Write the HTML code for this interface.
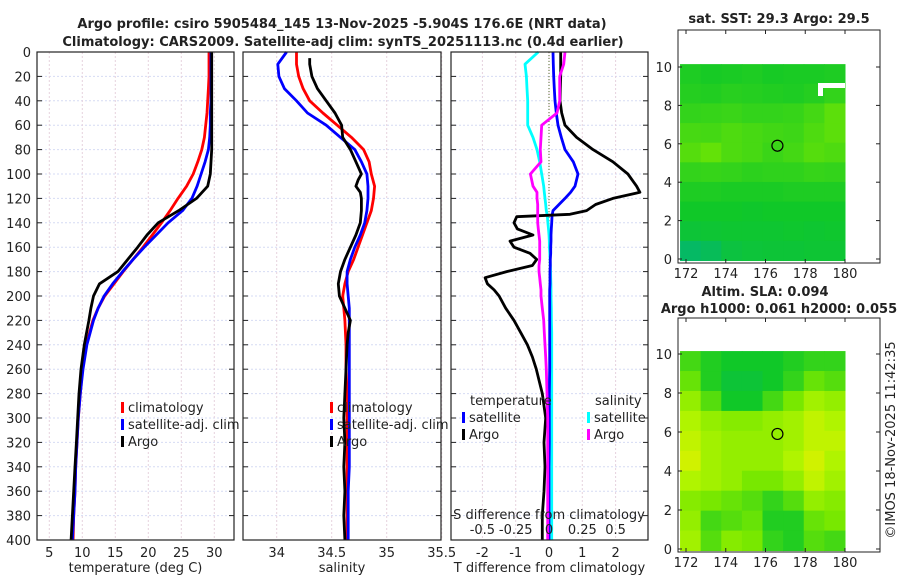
<!DOCTYPE html>
<html><head><meta charset="utf-8">
<style>
html,body{margin:0;padding:0;background:#fff;}
svg{display:block;font-family:"DejaVu Sans","Liberation Sans",sans-serif;}
text{fill:#222;}
</style></head>
<body>
<svg id="fig" width="900" height="580" viewBox="0 0 900 580">
<text x="342" y="28" text-anchor="middle" font-size="13" font-weight="bold">Argo profile: csiro 5905484_145 13-Nov-2025 -5.904S 176.6E (NRT data)</text>
<text x="343" y="46" text-anchor="middle" font-size="13" font-weight="bold">Climatology: CARS2009. Satellite-adj clim: synTS_20251113.nc (0.4d earlier)</text>
<text x="779" y="23" text-anchor="middle" font-size="13" font-weight="bold">sat. SST: 29.3 Argo: 29.5</text>
<text x="765" y="296" text-anchor="middle" font-size="13" font-weight="bold">Altim. SLA: 0.094</text>
<text x="779" y="313" text-anchor="middle" font-size="13" font-weight="bold">Argo h1000: 0.061 h2000: 0.055</text>
<text transform="translate(895,440) rotate(-90)" text-anchor="middle" font-size="13">©IMOS 18-Nov-2025 11:42:35</text>
<g id="root"></g>
</svg>
<script>
// ---- data ----
const depths = [0,10,20,30,40,50,60,70,80,90,100,110,120,130,140,150,160,170,180,190,200,210,220,240,260,280,300,320,340,360,380,400];
const tempClim = [29.2,29.2,29.2,29.1,29.0,28.9,28.7,28.5,28.1,27.5,26.8,25.8,24.5,23.3,22.0,20.6,19.2,17.7,16.2,14.8,13.4,12.4,11.6,10.6,10.0,9.7,9.4,9.2,9.0,8.9,8.7,8.6];
const tempSat = [29.5,29.5,29.5,29.5,29.5,29.4,29.4,29.3,29.1,28.6,28.0,27.4,26.6,25.2,23.0,21.2,19.4,17.7,16.1,14.6,13.3,12.4,11.7,10.7,10.1,9.7,9.4,9.2,9.0,8.9,8.7,8.5];
const tempArgo = [29.6,29.6,29.6,29.6,29.6,29.6,29.6,29.6,29.6,29.5,29.4,29.0,27.3,24.6,21.5,19.8,18.4,16.9,15.4,12.6,11.7,11.3,11.0,10.3,9.8,9.5,9.3,9.1,8.9,8.7,8.5,8.3];
const salClim = [34.18,34.18,34.2,34.24,34.3,34.42,34.55,34.68,34.79,34.84,34.86,34.89,34.88,34.86,34.82,34.78,34.74,34.7,34.65,34.62,34.6,34.61,34.62,34.63,34.63,34.64,34.64,34.64,34.64,34.64,34.64,34.64];
const salSat = [34.09,34.01,34.02,34.07,34.18,34.28,34.45,34.58,34.71,34.77,34.82,34.83,34.83,34.82,34.8,34.76,34.71,34.67,34.64,34.64,34.65,34.66,34.66,34.66,34.66,34.66,34.66,34.66,34.66,34.65,34.65,34.65];
const argoSalDepths = [5,10,20,30,40,50,60,70,80,90,100,105,110,115,120,130,140,150,160,170,180,185,190,200,210,220,230,240,260,280,300,320,340,360,380,400];
const salArgo = [34.3,34.3,34.32,34.37,34.45,34.53,34.59,34.6,34.67,34.72,34.77,34.74,34.72,34.76,34.77,34.77,34.76,34.72,34.67,34.62,34.58,34.57,34.56,34.57,34.62,34.67,34.65,34.64,34.63,34.62,34.61,34.62,34.61,34.62,34.61,34.62];
const diffDepths = [0,10,20,30,40,50,60,70,80,90,100,110,115,120,125,130,133,135,140,145,150,155,160,165,170,175,180,185,190,195,200,210,220,230,240,250,260,280,300,320,340,360,380,400];
const tDiffSat = [0.12,0.13,0.14,0.16,0.18,0.22,0.27,0.37,0.48,0.73,0.87,0.78,0.65,0.48,0.3,0.12,0.1,0.09,0.08,0.07,0.06,0.06,0.05,0.05,0.04,0.04,0.03,0.03,0.03,0.02,0.02,0.02,0.02,0.02,0.02,0.02,0.02,0.01,0.01,0.01,0.0,0.0,0.0,0.0];
const tDiffArgo = [0.35,0.35,0.35,0.34,0.33,0.38,0.48,0.83,1.32,1.92,2.37,2.63,2.73,1.92,1.4,1.13,0.63,-0.97,-1.05,-0.95,-0.48,-1.17,-1.05,-0.57,-0.37,-0.5,-1.27,-1.92,-1.85,-1.65,-1.5,-1.3,-1.05,-0.85,-0.65,-0.5,-0.38,-0.2,-0.1,-0.15,-0.12,-0.15,-0.2,-0.2];
const sDiffSat = [-0.08,-0.18,-0.17,-0.165,-0.16,-0.16,-0.16,-0.12,-0.09,-0.07,-0.055,-0.04,-0.035,-0.03,-0.025,-0.02,-0.015,-0.012,-0.008,-0.004,0.0,0.002,0.003,0.006,0.008,0.01,0.012,0.013,0.014,0.015,0.015,0.017,0.018,0.02,0.02,0.02,0.02,0.02,0.02,0.02,0.02,0.02,0.02,0.02];
const sDiffArgo = [0.12,0.11,0.08,0.08,0.08,0.06,-0.055,-0.06,-0.065,-0.06,-0.14,-0.12,-0.09,-0.09,-0.085,-0.085,-0.085,-0.085,-0.085,-0.08,-0.075,-0.07,-0.07,-0.07,-0.07,-0.075,-0.075,-0.07,-0.065,-0.06,-0.06,-0.05,-0.04,-0.035,-0.03,-0.025,-0.02,-0.015,-0.01,-0.01,-0.01,-0.01,-0.01,-0.01];
const depthTicks = [0,20,40,60,80,100,120,140,160,180,200,220,240,260,280,300,320,340,360,380,400];
const tempTicks = [5,10,15,20,25,30];
const salTicks = [34,34.5,35,35.5];
const salTickLabels = ["34","34.5","35","35.5"];
const tdTicks = [-2,-1,0,1,2];
const sdTicks = [-0.5,-0.25,0,0.25,0.5];
const sdTickLabels = ["-0.5","-0.25","0","0.25","0.5"];
const lonTicks = [172,174,176,178,180];
const latTicks = [0,2,4,6,8,10];
const argoLon = 176.6, argoLat = 5.9;
// map grids (rows from lat 10 down to 0; 8 columns 171.7..180), value 0=teal .. 1=yellow
const sstGrid = [
 [0.34,0.32,0.33,0.34,0.32,0.33,0.33,0.34],
 [0.36,0.35,0.37,0.36,0.35,0.34,0.36,0.4],
 [0.4,0.41,0.42,0.4,0.4,0.41,0.45,0.52],
 [0.46,0.45,0.48,0.46,0.44,0.43,0.48,0.52],
 [0.5,0.54,0.48,0.46,0.42,0.45,0.5,0.48],
 [0.4,0.41,0.4,0.38,0.39,0.39,0.41,0.4],
 [0.34,0.34,0.33,0.33,0.33,0.34,0.34,0.34],
 [0.3,0.3,0.3,0.29,0.3,0.3,0.3,0.3],
 [0.25,0.26,0.27,0.27,0.27,0.28,0.27,0.28],
 [0.1,0.14,0.22,0.24,0.25,0.25,0.26,0.26]];
const slaGrid = [
 [0.45,0.35,0.3,0.3,0.3,0.35,0.4,0.4],
 [0.55,0.35,0.25,0.25,0.3,0.4,0.55,0.5],
 [0.7,0.5,0.3,0.3,0.45,0.6,0.75,0.7],
 [0.8,0.7,0.65,0.65,0.7,0.75,0.85,0.8],
 [0.85,0.75,0.7,0.7,0.7,0.75,0.85,0.85],
 [0.9,0.75,0.7,0.7,0.7,0.8,0.9,0.8],
 [0.8,0.75,0.7,0.6,0.6,0.7,0.85,0.75],
 [0.65,0.6,0.55,0.5,0.4,0.5,0.7,0.65],
 [0.7,0.45,0.5,0.55,0.35,0.35,0.55,0.6],
 [0.75,0.5,0.65,0.6,0.4,0.35,0.5,0.45]];

// ---- helpers ----
const NS = "http://www.w3.org/2000/svg";
const root = document.getElementById('root');
function mk(tag, attrs, parent){
  const e = document.createElementNS(NS, tag);
  for (const k in attrs) e.setAttribute(k, attrs[k]);
  (parent||root).appendChild(e);
  return e;
}
const Y0 = 52, Y1 = 540;
const yD = d => Y0 + d*(Y1-Y0)/400;
function lin(d0,d1,r0,r1){ return v => r0 + (v-d0)*(r1-r0)/(d1-d0); }

const panels = [
  {name:'temperature-panel', x0:37, x1:234, sx: lin(5,30,49.3,214.3), ticks: tempTicks, labels: tempTicks.map(String), xlabel:'temperature (deg C)'},
  {name:'salinity-panel', x0:243, x1:441, sx: lin(34,35,276.7,386.7), ticks: salTicks, labels: salTickLabels, xlabel:'salinity'},
  {name:'difference-panel', x0:451, x1:648, sx: lin(0,1,549,582.3), ticks: tdTicks, labels: tdTicks.map(String), xlabel:'T difference from climatology'}
];
const sxS = lin(0,0.25,549,582.3);

panels.forEach((p,pi)=>{
  const g = mk('g',{});
  
  
  depthTicks.forEach(d=>{
    const l = mk('line',{x1:p.x0,x2:p.x1,y1:yD(d),y2:yD(d),stroke:'#d6dbf4','stroke-width':1,'stroke-dasharray':'2,2'},g);
    
    
  });
  p.ticks.forEach(v=>{
    const x = p.sx(v);
    const l = mk('line',{x1:x,x2:x,y1:Y0,y2:Y1,stroke:'#e6d2de','stroke-width':1,'stroke-dasharray':'2,2'},g);
    
    
  });
  depthTicks.forEach(d=>{
    mk('line',{x1:p.x0,x2:p.x0+5,y1:yD(d),y2:yD(d),stroke:'#222'},g);
    mk('line',{x1:p.x1-5,x2:p.x1,y1:yD(d),y2:yD(d),stroke:'#222'},g);
  });
  p.ticks.forEach((v,i)=>{
    const t = mk('text',{x:p.sx(v),y:557,'text-anchor':'middle','font-size':13},g);
    t.textContent = p.labels[i];
    
    
  });
  const xl = mk('text',{x:(p.x0+p.x1)/2,y:572,'text-anchor':'middle','font-size':13},g);
  xl.textContent = p.xlabel;
  
  
});
depthTicks.forEach(d=>{
  const t = mk('text',{x:31,y:yD(d)+5,'text-anchor':'end','font-size':13});
  t.textContent = String(d);
  
  
});
const zl = mk('line',{x1:549,x2:549,y1:Y0,y2:Y1,stroke:'#556b2f','stroke-width':1,'stroke-dasharray':'1,2'});



function series(xs, ds, sx, color, name){
  const pts = xs.map((v,i)=>sx(v).toFixed(1)+','+yD(ds[i]).toFixed(1)).join(' ');
  const pl = mk('polyline',{points:pts,fill:'none',stroke:color,'stroke-width':2.8,'stroke-linejoin':'round'});
  
  
}
const P = panels;
series(tempClim, depths, P[0].sx, '#ff0000', 'temperature-climatology-line');
series(tempSat, depths, P[0].sx, '#0000ff', 'temperature-satellite-line');
series(tempArgo, depths, P[0].sx, '#000000', 'temperature-argo-line');
series(salClim, depths, P[1].sx, '#ff0000', 'salinity-climatology-line');
series(salSat, depths, P[1].sx, '#0000ff', 'salinity-satellite-line');
series(salArgo, argoSalDepths, P[1].sx, '#000000', 'salinity-argo-line');
series(sDiffSat, diffDepths, sxS, '#00ffff', 'salinity-diff-satellite-line');
series(tDiffSat, diffDepths, P[2].sx, '#0000ff', 'temperature-diff-satellite-line');
series(tDiffArgo, diffDepths, P[2].sx, '#000000', 'temperature-diff-argo-line');
series(sDiffArgo, diffDepths, sxS, '#ff00ff', 'salinity-diff-argo-line');

P.forEach(p=>{
  const r = mk('rect',{x:p.x0,y:Y0,width:p.x1-p.x0,height:Y1-Y0,fill:'none',stroke:'#222','stroke-width':1.2});
  
  
});
const sdt = mk('text',{x:549,y:519,'text-anchor':'middle','font-size':13});
sdt.textContent = 'S difference from climatology';


sdTicks.forEach((v,i)=>{
  const t = mk('text',{x:sxS(v),y:534,'text-anchor':'middle','font-size':13});
  t.textContent = sdTickLabels[i];
  
  
});

function legend(x, y, color, label, name){
  mk('rect',{x:x,y:y-10,width:3,height:11,fill:color});
  const t = mk('text',{x:x+7,y:y,'font-size':13});
  t.textContent = label;
  
  
}
legend(121,412,'#ff0000','climatology','legend-climatology');
legend(121,429,'#0000ff','satellite-adj. clim','legend-satellite-adj');
legend(121,446,'#000000','Argo','legend-argo');
legend(330,412,'#ff0000','climatology','legend-climatology-2');
legend(330,429,'#0000ff','satellite-adj. clim','legend-satellite-adj-2');
legend(330,446,'#000000','Argo','legend-argo-2');
const lt = mk('text',{x:470,y:405,'font-size':13}); lt.textContent='temperature';


const ls = mk('text',{x:595,y:405,'font-size':13}); ls.textContent='salinity';


legend(462,422,'#0000ff','satellite','legend-t-satellite');
legend(462,439,'#000000','Argo','legend-t-argo');
legend(587,422,'#00ffff','satellite','legend-s-satellite');
legend(587,439,'#ff00ff','Argo','legend-s-argo');

// ---- maps ----
function cmap(v){
  const stops = [[0,[0,178,130]],[0.3,[16,200,40]],[0.6,[120,232,0]],[0.8,[176,244,0]],[1,[240,240,0]]];
  for (let i=1;i<stops.length;i++){
    if (v<=stops[i][0]){
      const a=stops[i-1], b=stops[i], f=(v-a[0])/(b[0]-a[0]);
      return 'rgb('+a[1].map((c,k)=>Math.round(c+(b[1][k]-c)*f)).join(',')+')';
    }
  }
  return 'rgb(240,240,0)';
}
function drawMap(name, grid, top, bottom, lat10y, lat0y){
  const g = mk('g',{});
  
  
  const sxL = lin(172,180,686,845);
  const syL = lin(0,10,lat0y,lat10y);
  const xa = sxL(171.7), xb = sxL(180), ya = syL(10.15), yb = syL(-0.08);
  const rows = grid.length, cols = grid[0].length;
  const cw = (xb-xa)/cols, ch = (yb-ya)/rows;
  grid.forEach((row,r)=>row.forEach((v,c)=>{
    const cell = mk('rect',{x:(xa+c*cw).toFixed(2),y:(ya+r*ch).toFixed(2),width:(cw+0.5).toFixed(2),height:(ch+0.5).toFixed(2),fill:cmap(v)},g);
    
    
  }));
  const ci = mk('circle',{cx:sxL(argoLon),cy:syL(argoLat),r:5.5,fill:'none',stroke:'#000','stroke-width':1.2},g);
  
  
  const fr = mk('rect',{x:678,y:top,width:202,height:bottom-top,fill:'none',stroke:'#222','stroke-width':1},g);
  
  
  lonTicks.forEach(v=>{
    mk('line',{x1:sxL(v),x2:sxL(v),y1:bottom,y2:bottom-4,stroke:'#222'},g);
    mk('line',{x1:sxL(v),x2:sxL(v),y1:top,y2:top+4,stroke:'#222'},g);
    const t = mk('text',{x:sxL(v),y:bottom+15,'text-anchor':'middle','font-size':13},g);
    t.textContent = String(v);
    
    
  });
  latTicks.forEach(v=>{
    mk('line',{x1:678,x2:682,y1:syL(v),y2:syL(v),stroke:'#222'},g);
    mk('line',{x1:876,x2:880,y1:syL(v),y2:syL(v),stroke:'#222'},g);
    const t = mk('text',{x:672,y:syL(v)+5,'text-anchor':'end','font-size':13},g);
    t.textContent = String(v);
    
    
  });
}
drawMap('sst-map', sstGrid, 30, 263, 67, 259);
drawMap('sla-map', slaGrid, 318, 552, 354, 549);
mk('rect',{x:820,y:83,width:25,height:5,fill:'#fff'});
mk('rect',{x:818,y:83,width:5,height:13,fill:'#fff'});
</script>
</body></html>
